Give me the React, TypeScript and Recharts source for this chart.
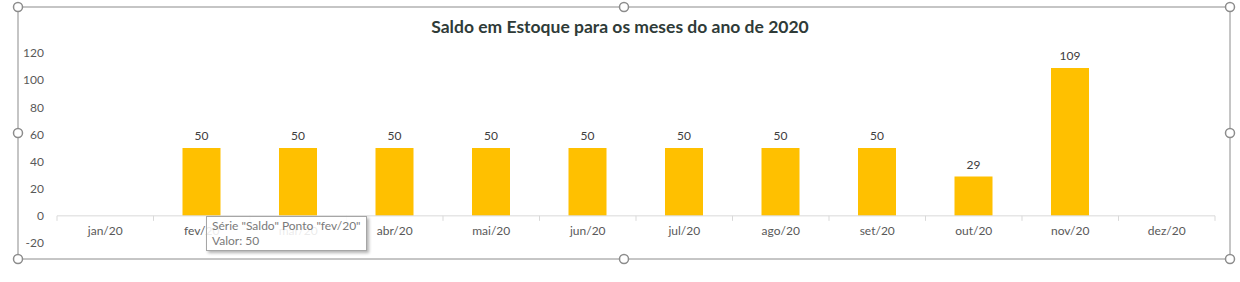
import { BarChart, Bar, XAxis, YAxis, ReferenceLine, LabelList, Tooltip } from "recharts";

const months = ["jan/20", "fev/20", "mar/20", "abr/20", "mai/20", "jun/20", "jul/20", "ago/20", "set/20", "out/20", "nov/20", "dez/20"];
const saldo: (number | null)[] = [null, 50, 50, 50, 50, 50, 50, 50, 50, 29, 109, null];
const yTicks = [-20, 0, 20, 40, 60, 80, 100, 120];
const Y_MIN = -20;
const Y_MAX = 120;

const data = months.map((mes, i) => ({ mes, Saldo: saldo[i] }));

const W = 1240;
const H = 282;
const PLOT = { left: 57, right: 1215, top: 53, bottom: 243 };
const zeroY = PLOT.bottom - ((0 - Y_MIN) / (Y_MAX - Y_MIN)) * (PLOT.bottom - PLOT.top);
const band = (PLOT.right - PLOT.left) / months.length;

const FONT = "Lato, 'Open Sans', sans-serif";
const TEXT = "#595959";

// category labels sit just under the zero line, with tick marks on the band edges
const MonthTick = (props: any) => {
  const { x, payload, index } = props;
  const half = payload?.offset ?? band / 2;
  const last = index === months.length - 1;
  return (
    <g>
      <line x1={x - half} x2={x - half} y1={zeroY} y2={zeroY + 5} stroke="#d9d9d9" />
      {last && <line x1={x + half} x2={x + half} y1={zeroY} y2={zeroY + 5} stroke="#d9d9d9" />}
      <text x={x} y={zeroY + 15} dy="0.35em" textAnchor="middle" fontSize={12} fill={TEXT} fontFamily={FONT}>
        {payload.value}
      </text>
    </g>
  );
};

const SaldoTip = ({ label, payload }: any) => {
  const v = payload && payload.length ? payload[0].value : "";
  return (
    <div
      style={{
        background: "rgba(255,255,255,0.88)",
        border: "1px solid #a6a6a6",
        boxShadow: "2px 2px 3px rgba(0,0,0,0.3)",
        padding: "1px 5px 2px 5px",
        fontFamily: FONT,
        fontSize: 12,
        lineHeight: "15px",
        color: "#7a7a7a",
        whiteSpace: "nowrap",
      }}
    >
      <div>{`Série "Saldo" Ponto "${label}"`}</div>
      <div>{`Valor: ${v}`}</div>
    </div>
  );
};

// selection frame with the sizing handles around the chart area
const Frame = () => {
  const x0 = 18, x1 = 1230, y0 = 7, y1 = 259;
  const mx = 624, my = 133;
  const handles = [
    [x0, y0], [mx, y0], [x1, y0],
    [x0, my], [x1, my],
    [x0, y1], [mx, y1], [x1, y1],
  ];
  return (
    <svg width={W} height={H} style={{ position: "absolute", left: 0, top: 0, pointerEvents: "none" }}>
      <rect x={x0} y={y0} width={x1 - x0} height={y1 - y0} fill="none" stroke="#8c8c8c" strokeWidth={1} />
      {handles.map(([cx, cy], i) => (
        <circle key={i} cx={cx} cy={cy} r={4.5} fill="#fff" stroke="#8c8c8c" strokeWidth={1.5} />
      ))}
    </svg>
  );
};

export default function App() {
  return (
    <div style={{ position: "absolute", left: 0, top: 0, width: W, height: H, background: "#fff" }}>
      <div
        style={{
          position: "absolute",
          left: 0,
          top: 16,
          width: W,
          textAlign: "center",
          fontFamily: FONT,
          fontWeight: 700,
          fontSize: 17.5,
          color: "#2f3b38",
        }}
      >
        Saldo em Estoque para os meses do ano de 2020
      </div>
      <BarChart
        width={W}
        height={H}
        data={data}
        margin={{ top: PLOT.top, right: W - PLOT.right, bottom: 0, left: 0 }}
        style={{ position: "absolute", left: 0, top: 0 }}
      >
        <YAxis
          type="number"
          domain={[Y_MIN, Y_MAX]}
          ticks={yTicks}
          width={PLOT.left}
          axisLine={false}
          tickLine={false}
          tickMargin={7}
          tick={{ fontSize: 12, fill: TEXT, fontFamily: FONT }}
          interval={0}
        />
        <XAxis
          dataKey="mes"
          height={H - PLOT.bottom}
          axisLine={false}
          tickLine={false}
          interval={0}
          tick={<MonthTick />}
        />
        <ReferenceLine y={0} stroke="#d9d9d9" strokeWidth={1} />
        <Tooltip
          active
          defaultIndex={1}
          cursor={false}
          position={{ x: 206, y: 216 }}
          content={<SaldoTip />}
          isAnimationActive={false}
          wrapperStyle={{ transition: "none" }}
        />
        <Bar dataKey="Saldo" fill="#FFC000" barSize={38} isAnimationActive={false}>
          <LabelList dataKey="Saldo" position="top" offset={8} fontSize={12} fill="#404040" fontFamily={FONT} />
        </Bar>
      </BarChart>
      <Frame />
    </div>
  );
}
